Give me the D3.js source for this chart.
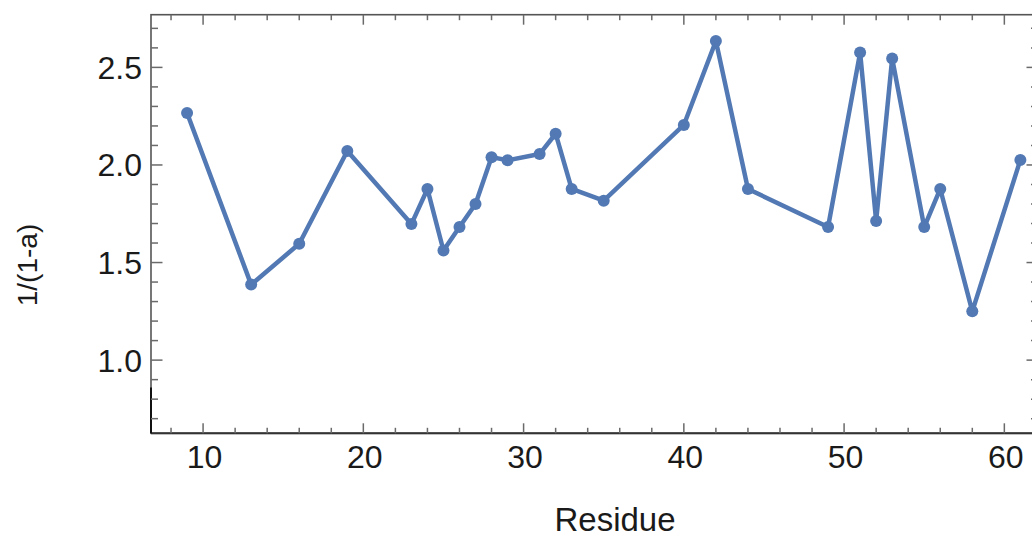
<!DOCTYPE html>
<html>
<head>
<meta charset="utf-8">
<script src="https://cdn.jsdelivr.net/npm/d3@7"></script>
<style>
  html, body { margin: 0; padding: 0; background: #fff; }
  svg { display: block; }
  text { font-family: "Liberation Sans", Arial, sans-serif; fill: #1a1a1a; }
</style>
</head>
<body>
<svg id="chart" width="1032" height="538"></svg>
<script>
// Residue numbers and their 1/(1-a) values
const residues = [9, 13, 16, 19, 23, 24, 25, 26, 27, 28, 29, 31, 32, 33, 35, 40, 42, 44, 49, 51, 52, 53, 55, 56, 58, 61];
const ratios   = [2.266, 1.387, 1.596, 2.072, 1.697, 1.877, 1.562, 1.682, 1.800, 2.040, 2.024, 2.056, 2.160, 1.877, 1.817, 2.205, 2.635, 1.877, 1.682, 2.576, 1.713, 2.546, 1.682, 1.877, 1.250, 2.026];

const xTickLabels = [10, 20, 30, 40, 50, 60];
const yTickLabels = [1.0, 1.5, 2.0, 2.5];

const svg = d3.select("#chart");
const plotLeft = 151, plotRight = 1038, plotTop = 14.7, plotBottom = 433.3;

const x = d3.scaleLinear().domain([6.75, 62.1]).range([plotLeft, plotRight]);
const y = d3.scaleLinear().domain([0.625, 2.77]).range([plotBottom, plotTop]);

const frameColor = "#555";
const tickColor = "#6a6a6a";

// frame
svg.append("rect")
  .attr("x", plotLeft).attr("y", plotTop)
  .attr("width", plotRight - plotLeft).attr("height", plotBottom - plotTop)
  .attr("fill", "none").attr("stroke", frameColor).attr("stroke-width", 1.6);

// darker axis lines along the bottom and lower left
svg.append("line")
  .attr("x1", plotLeft).attr("x2", plotRight).attr("y1", plotBottom).attr("y2", plotBottom)
  .attr("stroke", "#333").attr("stroke-width", 2);
svg.append("line")
  .attr("x1", plotLeft).attr("x2", plotLeft).attr("y1", y(0.86)).attr("y2", plotBottom)
  .attr("stroke", "#111").attr("stroke-width", 2);

// x ticks (every 2, major every 10), bottom and top, pointing inward
const xMinor = d3.range(8, 63, 2);
const xMajorSet = new Set(xTickLabels);
xMinor.forEach(v => {
  const len = xMajorSet.has(v) ? 10 : 5.5;
  svg.append("line").attr("x1", x(v)).attr("x2", x(v))
    .attr("y1", plotBottom).attr("y2", plotBottom - len)
    .attr("stroke", tickColor).attr("stroke-width", 1.5);
  svg.append("line").attr("x1", x(v)).attr("x2", x(v))
    .attr("y1", plotTop).attr("y2", plotTop + len)
    .attr("stroke", tickColor).attr("stroke-width", 1.5);
});

// y ticks (every 0.1, major every 0.5), left and right, pointing inward
const yMinor = d3.range(7, 28).map(d => d / 10);
yMinor.forEach(v => {
  const major = Math.abs(v * 2 - Math.round(v * 2)) < 1e-9;
  const len = major ? 11.5 : 7;
  svg.append("line").attr("x1", plotLeft).attr("x2", plotLeft + len)
    .attr("y1", y(v)).attr("y2", y(v))
    .attr("stroke", tickColor).attr("stroke-width", 1.5);
  svg.append("line").attr("x1", plotRight).attr("x2", plotRight - len)
    .attr("y1", y(v)).attr("y2", y(v))
    .attr("stroke", tickColor).attr("stroke-width", 1.5);
});

// tick labels
svg.selectAll(".xl").data(xTickLabels).enter().append("text")
  .attr("x", d => x(d) + 1.5).attr("y", 468)
  .attr("text-anchor", "middle").attr("font-size", 32)
  .text(d => d);
svg.selectAll(".yl").data(yTickLabels).enter().append("text")
  .attr("x", 142).attr("y", d => y(d) + 11.5)
  .attr("text-anchor", "end").attr("font-size", 32)
  .text(d => d.toFixed(1));

// axis titles
svg.append("text").attr("x", 615).attr("y", 531)
  .attr("text-anchor", "middle").attr("font-size", 33).text("Residue");
svg.append("text")
  .attr("transform", "translate(37,265) rotate(-90)")
  .attr("text-anchor", "middle").attr("font-size", 28).text("1/(1-a)");

// series
const data = residues.map((r, i) => [r, ratios[i]]);
const color = "#5279B3";
svg.append("path")
  .datum(data)
  .attr("d", d3.line().x(d => x(d[0])).y(d => y(d[1])))
  .attr("fill", "none").attr("stroke", color)
  .attr("stroke-width", 4.5).attr("stroke-linejoin", "round");
svg.selectAll(".pt").data(data).enter().append("circle")
  .attr("cx", d => x(d[0])).attr("cy", d => y(d[1]))
  .attr("r", 6).attr("fill", color);
</script>
</body>
</html>
